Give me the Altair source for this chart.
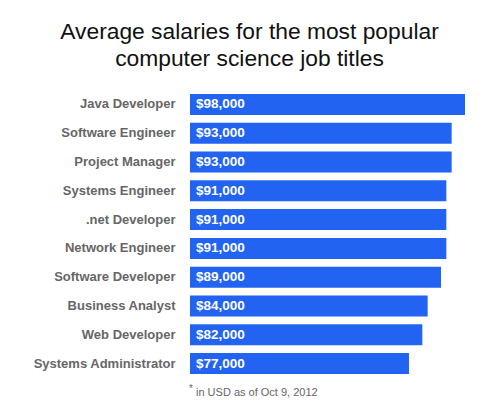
import pandas as pd
import altair as alt

# Data: average salaries per job title (USD, Oct 9 2012)
jobs = ["Java Developer", "Software Engineer", "Project Manager", "Systems Engineer",
        ".net Developer", "Network Engineer", "Software Developer", "Business Analyst",
        "Web Developer", "Systems Administrator"]
salaries = [98000, 93000, 93000, 91000, 91000, 91000, 89000, 84000, 82000, 77000]

df = pd.DataFrame({"job": jobs, "salary": salaries})

blue = "#2264F1"
grey = "#666666"
axis_start = -5100  # bars in the original begin a little left of zero

base = alt.Chart(df)

y_enc = alt.Y("job:N", sort=jobs, title=None,
              scale=alt.Scale(paddingInner=0.27, paddingOuter=0.135),
              axis=alt.Axis(domain=False, ticks=False, grid=False, labelPadding=15,
                            labelFont="Liberation Sans", labelFontWeight="bold",
                            labelFontSize=13, labelColor=grey))

bars = base.mark_bar(color=blue).encode(
    x=alt.X("salary:Q", scale=alt.Scale(domain=[axis_start, 98000], zero=False, nice=False),
            axis=None),
    x2=alt.datum(axis_start),
    y=y_enc,
)

values = base.mark_text(align="left", baseline="middle", color="white",
                        font="Liberation Sans", fontWeight="bold", fontSize=13.5, dx=6).encode(
    x=alt.value(0),
    y=alt.Y("job:N", sort=jobs),
    text=alt.Text("salary:Q", format="$,.0f"),
)

# footnote
star = alt.Chart(pd.DataFrame({"t": ["*"]})).mark_text(
    align="left", baseline="alphabetic", color=grey, font="Liberation Sans", fontSize=10
).encode(x=alt.value(-1), y=alt.value(302), text="t:N")

note = alt.Chart(pd.DataFrame({"t": ["in USD as of Oct 9, 2012"]})).mark_text(
    align="left", baseline="alphabetic", color=grey, font="Liberation Sans", fontSize=11
).encode(x=alt.value(6), y=alt.value(306), text="t:N")

chart = alt.layer(bars, values, star, note).properties(
    width=275,
    height=288,
    background="white",
    title=alt.TitleParams(
        ["Average salaries for the most popular", "computer science job titles"],
        anchor="middle", frame="group", dx=-78, offset=19,
        font="Liberation Sans", fontSize=22.8, fontWeight="normal", color="#111111",
        lineHeight=27,
    ),
    autosize=alt.AutoSizeParams(type="none"),
    padding={"left": 182, "top": 82, "right": 27, "bottom": 30},
).configure_view(stroke=None, strokeWidth=0)

chart.save("out.html", embed_options={"renderer": "svg", "actions": False})
